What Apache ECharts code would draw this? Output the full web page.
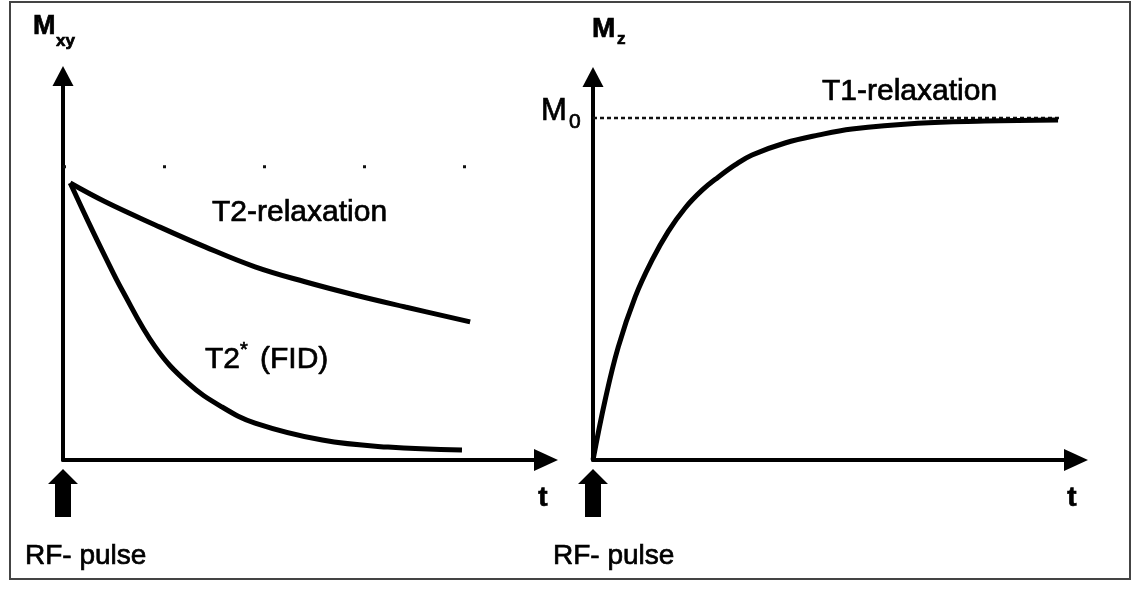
<!DOCTYPE html>
<html>
<head>
<meta charset="utf-8">
<script src="https://cdn.jsdelivr.net/npm/echarts@6/dist/echarts.min.js"></script>
<style>
html,body{margin:0;padding:0;background:#fff;}
#c{width:1144px;height:590px;}
</style>
</head>
<body>
<div id="c"></div>
<script>
// ---- data (t in arbitrary time units, magnetisation relative to M0 = 1) ----
const t2Relaxation = [[0.15,0.945],[0.88,0.881],[1.92,0.802],[2.96,0.727],[4.0,0.659],[5.04,0.608],[6.08,0.563],[7.13,0.522],[8.48,0.471]];
const t2StarFID = [[0.15,0.945],[0.52,0.815],[0.88,0.693],[1.23,0.58],[1.92,0.386],[2.6,0.263],[3.31,0.181],[4.0,0.126],[5.4,0.068],[6.77,0.044],[8.31,0.034]];
const t1Relaxation = [[0,0],[0.25,0.175],[0.52,0.33],[0.87,0.477],[1.22,0.585],[1.55,0.668],[1.9,0.737],[2.25,0.789],[2.58,0.827],[2.93,0.863],[3.28,0.892],[3.96,0.927],[4.64,0.95],[5.34,0.968],[6.7,0.985],[8.08,0.991],[9.59,0.994]];
const m0LevelLeft = [[0,1],[8.4,1]];
const m0LevelRight = [[0,1],[9.67,1]];
const labelsText = {
  mxy: ['M','xy'], mz: ['M','z'], m0: ['M','0'],
  t2: 'T2-relaxation', t2s: ['T2','*','(FID)'], t1: 'T1-relaxation',
  t: 't', rf: 'RF- pulse'
};

const FONT = '"Liberation Sans", Arial, Helvetica, sans-serif';
function txt(x, y, text, size, weight, align) {
  return {
    type: 'text', x: x, y: y, silent: true,
    style: {
      text: text, fill: '#000', stroke: '#000', lineWidth: 0.7,
      font: (weight || 'normal') + ' ' + size + 'px ' + FONT,
      fontSize: size, fontWeight: weight || 'normal', fontFamily: FONT,
      textAlign: align || 'left', align: align || 'left',
      textVerticalAlign: 'middle', verticalAlign: 'middle'
    }
  };
}
function rfArrow(cx) {
  return {
    type: 'polygon', silent: true,
    shape: { points: [[cx,469],[cx+15,484],[cx+8,484],[cx+8,517],[cx-8,517],[cx-8,484],[cx-15,484]] },
    style: { fill: '#000' }
  };
}
function axisX(gi, max) {
  return {
    gridIndex: gi, type: 'value', min: 0, max: max,
    axisLine: { show: true, onZero: false, symbol: ['none','triangle'], symbolSize: [22,24], lineStyle: { color: '#000', width: 4 } },
    axisTick: { show: false }, axisLabel: { show: false }, splitLine: { show: false }
  };
}
function axisY(gi, max) {
  return {
    gridIndex: gi, type: 'value', min: 0, max: max,
    axisLine: { show: true, onZero: false, symbol: ['none','triangle'], symbolSize: [21,20], lineStyle: { color: '#000', width: 4 } },
    axisTick: { show: false }, axisLabel: { show: false }, splitLine: { show: false }
  };
}
function curve(gi, data) {
  return {
    type: 'line', xAxisIndex: gi, yAxisIndex: gi, data: data,
    symbol: 'none', showSymbol: false, smooth: 0.4,
    lineStyle: { color: '#000', width: 5 }, silent: true, z: 3
  };
}
function dotted(gi, data, dash, w) {
  return {
    type: 'line', xAxisIndex: gi, yAxisIndex: gi, data: data,
    symbol: 'none', showSymbol: false,
    lineStyle: { color: '#111', width: w, type: dash }, silent: true, z: 2
  };
}

const chart = echarts.init(document.getElementById('c'), null, { renderer: 'canvas' });
chart.setOption({
  animation: false,
  backgroundColor: '#fff',
  grid: [
    { left: 63, top: 76, width: 483, height: 384, containLabel: false },
    { left: 593, top: 77, width: 483, height: 383, containLabel: false }
  ],
  xAxis: [axisX(0, 10.06), axisX(1, 9.96)],
  yAxis: [axisY(0, 1.31), axisY(1, 1.12)],
  series: [
    dotted(0, m0LevelLeft, [3, 97], 3),
    curve(0, t2Relaxation),
    curve(0, t2StarFID),
    dotted(1, m0LevelRight, [4, 3], 2.5),
    curve(1, t1Relaxation)
  ],
  graphic: [
    { type: 'rect', silent: true, shape: { x: 10, y: 2, width: 1120, height: 577 }, style: { fill: 'none', stroke: '#444', lineWidth: 2 } },
    txt(33, 27, labelsText.mxy[0], 27, 'bold'),
    txt(56, 41, labelsText.mxy[1], 17, 'bold'),
    txt(592, 29, labelsText.mz[0], 28, 'bold'),
    txt(617, 39, labelsText.mz[1], 17, 'bold'),
    txt(541, 111, labelsText.m0[0], 31, 'normal'),
    txt(569, 122, labelsText.m0[1], 21, 'normal'),
    txt(212, 213, labelsText.t2, 30, 'normal'),
    txt(205, 360, labelsText.t2s[0], 30, 'normal'),
    txt(240, 350, labelsText.t2s[1], 20, 'normal'),
    txt(260, 360, labelsText.t2s[2], 30, 'normal'),
    txt(822, 92, labelsText.t1, 30, 'normal'),
    txt(543, 498, labelsText.t, 28, 'bold', 'center'),
    txt(1072, 498, labelsText.t, 28, 'bold', 'center'),
    txt(25, 556, labelsText.rf, 28, 'normal'),
    txt(553, 556, labelsText.rf, 28, 'normal'),
    rfArrow(63),
    rfArrow(593)
  ]
});
</script>
</body>
</html>
